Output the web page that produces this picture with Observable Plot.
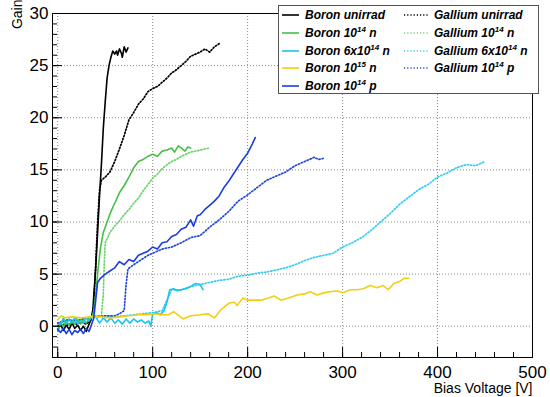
<!DOCTYPE html>
<html>
<head>
<meta charset="utf-8">
<script src="https://cdn.jsdelivr.net/npm/d3@7"></script>
<script src="https://cdn.jsdelivr.net/npm/@observablehq/plot@0.6"></script>
<style>
  body { margin: 0; background: #fff; }
  #wrap { position: relative; width: 550px; height: 397px; font-family: "Liberation Sans", Arial, sans-serif; }
  #legend { position: absolute; left: 278px; top: 5px; width: 261px; height: 89px; background: #fff; border: 1px solid #555; box-sizing: border-box; }
  .entry { position: absolute; height: 16px; display: flex; align-items: center; font: italic bold 12px "Liberation Sans", Arial, sans-serif; white-space: nowrap; color: #000; }
  .entry svg { margin-right: 6px; }
  .entry sup { font-size: 8px; line-height: 0; vertical-align: 5px; }
</style>
</head>
<body>
<div id="wrap"></div>
<script>
// ---- data (Bias Voltage [V], Gain) ----
const boronUnirrad = [[0,-0.3],[3,0.2],[6,-0.4],[9,0.1],[12,-0.3],[15,0.3],[18,-0.2],[21,0.1],[24,-0.4],[27,0],[30,-0.5],[33,0.2],[35,0.6],[37,1.5],[38,3],[40,5.5],[42,9],[44,12.5],[45,14],[46,15.5],[48,19],[50,21.5],[52,23.8],[54,25],[56,25.8],[58,26.4],[60,26.1],[62,26.4],[63,26],[65,26.6],[67,26.2],[68,25.8],[70,26.8],[72,26.3],[74,26.7]];
const boron1e14n = [[0,-0.4],[3,0.3],[6,0],[9,0.5],[12,0.1],[15,0.5],[18,0.2],[21,0.6],[24,0.2],[27,0.6],[30,0.3],[33,0.8],[36,0.8],[38,1.5],[40,3],[42,5],[45,7.5],[48,9],[52,10],[56,11],[60,11.8],[65,12.8],[70,13.5],[75,14.3],[80,15.2],[85,15.8],[90,16],[95,16.3],[100,16.5],[105,16.3],[110,16.8],[115,16.9],[120,17.1],[123,16.7],[127,17.3],[130,17.1],[134,16.8],[137,17.2],[140,17.1]];
const boron6e14n = [[0,-0.5],[3,0.2],[6,0.8],[9,0.2],[12,0.7],[15,0.3],[18,0.8],[21,0.2],[24,0.6],[27,0.3],[30,0.8],[33,0.5],[36,1],[40,0.9],[44,0.3],[48,0.8],[52,0.4],[56,0.8],[60,0.3],[64,0.6],[68,0.2],[72,0.7],[76,0.3],[80,0.7],[84,0.4],[88,0.6],[92,0.3],[96,0.5],[98,0],[100,1.2],[104,1.3],[108,1.1],[112,1.5],[115,2.3],[118,3.5],[122,3.6],[126,3.4],[130,3.5],[135,3.6],[140,3.8],[145,4.1],[150,4.0],[153,3.5]];
const boron1e15n = [[0,0.6],[4,1],[8,0.8],[15,0.9],[25,0.8],[35,0.9],[45,0.9],[55,0.8],[65,0.9],[75,1],[85,1.1],[95,1.1],[100,1.2],[110,1.1],[117,1.1],[122,1.4],[132,0.7],[140,1],[150,1.1],[158,1.2],[165,0.8],[172,1.6],[180,2.2],[186,2.3],[189,2.0],[195,2.7],[200,2.5],[207,2.5],[214,2.5],[222,2.7],[228,2.9],[235,2.5],[243,2.7],[252,3.0],[260,3.1],[266,3.3],[273,3.0],[280,3.2],[287,3.3],[294,3.4],[300,3.2],[308,3.5],[315,3.5],[322,3.6],[329,3.9],[336,3.7],[343,3.9],[348,3.5],[354,4.1],[360,4.3],[365,4.6],[370,4.6]];
const boron1e14p = [[0,-0.3],[3,-0.6],[6,-0.2],[9,-0.7],[12,-0.3],[15,-0.8],[18,-0.4],[21,-0.6],[24,-0.3],[27,-0.7],[30,-0.2],[33,-0.5],[35,0],[38,0.8],[40,2.5],[42,4.2],[45,4.6],[50,5],[55,5.3],[60,5.6],[65,6.2],[70,5.9],[75,6.4],[80,6.2],[85,6.8],[90,7],[95,7.2],[100,7.6],[105,7.4],[110,8],[115,8.1],[120,8.6],[125,8.8],[130,9.3],[135,9.5],[140,10.2],[143,9.6],[147,10.6],[150,10.7],[155,11.2],[160,11.6],[165,12],[170,12.5],[175,13.3],[180,13.9],[185,14.6],[190,15.3],[195,16],[200,16.6],[205,17.5],[208,18.1]];
const galliumUnirrad = [[0,0],[5,0.2],[10,0.1],[15,0.3],[20,0.2],[25,0.4],[30,0.2],[35,0.6],[38,2],[40,6],[42,10],[44,13],[46,14],[50,14.3],[55,14.8],[60,15.8],[65,17],[70,18.3],[75,19.8],[80,20.5],[85,21.3],[90,21.8],[95,22.5],[100,22.8],[105,23],[110,23.4],[115,23.8],[120,24.3],[125,24.6],[130,25],[135,25.4],[140,25.9],[145,26.1],[150,26.3],[155,26.6],[160,26.3],[165,26.8],[170,27.1]];
const gallium1e14n = [[0,0.2],[5,0.4],[10,0.5],[15,0.6],[20,0.7],[25,0.6],[30,0.8],[35,0.9],[40,1],[46,1],[48,3],[49,6],[50,8],[55,9],[60,9.6],[65,10.1],[70,10.7],[75,11.2],[80,11.8],[85,12.3],[90,13],[95,13.6],[100,14.2],[105,14.6],[110,15.1],[115,15.5],[120,15.8],[125,16],[130,16.3],[135,16.5],[140,16.7],[145,16.8],[150,16.9],[155,17],[160,17.1]];
const gallium6e14n = [[0,0.3],[10,0.6],[20,0.5],[30,0.8],[40,0.9],[50,1],[60,0.9],[70,1],[80,1.1],[90,1.2],[100,1.3],[110,1.5],[115,2.5],[120,3.5],[130,3.5],[140,3.8],[150,4],[160,4.2],[170,4.4],[180,4.5],[190,4.8],[200,4.9],[210,5.1],[220,5.2],[230,5.4],[240,5.6],[250,5.9],[260,6.3],[270,6.6],[280,6.8],[290,7],[300,7.6],[310,8],[320,8.5],[330,9.2],[340,10],[350,10.8],[360,11.7],[370,12.4],[380,13.1],[390,13.6],[400,14.3],[410,14.7],[420,15.2],[430,15.5],[440,15.4],[450,15.8]];
const gallium1e14p = [[0,0.3],[10,0.6],[20,0.5],[30,0.8],[40,0.9],[50,1],[60,1],[65,1.2],[70,1.5],[72,4],[74,5.5],[80,5.9],[85,6.2],[90,6.5],[95,6.8],[100,7],[110,7.4],[120,7.6],[130,8],[140,8.5],[150,8.7],[160,9.5],[170,10.2],[180,11],[190,12],[200,12.6],[210,13.3],[220,14],[230,14.4],[240,14.8],[250,15.4],[260,15.8],[270,16.2],[275,16],[280,16.1]];

const seriesNames = ["Boron unirrad","Boron 10^14 n","Boron 6x10^14 n","Boron 10^15 n","Boron 10^14 p","Gallium unirrad","Gallium 10^14 n","Gallium 6x10^14 n","Gallium 10^14 p"];
const seriesData = [boronUnirrad, boron1e14n, boron6e14n, boron1e15n, boron1e14p, galliumUnirrad, gallium1e14n, gallium6e14n, gallium1e14p];
const seriesColors = ["#000000","#45c045","#18c4f0","#f2cf10","#1a3fe0","#000000","#6ad66a","#30cdf0","#2346dc"];
const seriesDotted = [false,false,false,false,false,true,true,true,true];

const xMajor = [0,100,200,300,400,500];
const xMinor = d3.range(0, 501, 20);
const yMajor = [0,5,10,15,20,25,30];
const yMinor = d3.range(-3, 31, 1);

// ---- chart ----
const W = 550, H = 397;
const mL = 52, mR = 18, mT = 13, mB = 40;
const innerW = W - mL - mR, innerH = H - mT - mB;
const DOT = "1.2,2";

const marks = [
  Plot.ruleX(xMajor.filter(d => d < 500), {x: d => d, stroke: "#888", strokeDasharray: "1,2", strokeWidth: 1}),
  Plot.ruleY(yMajor.filter(d => d < 30), {y: d => d, stroke: "#888", strokeDasharray: "1,2", strokeWidth: 1}),
];
[5,6,7,8,0,1,2,3,4].forEach(i => {
  const opts = {
    x: d => d[0], y: d => d[1],
    stroke: seriesColors[i],
    strokeWidth: seriesDotted[i] ? 1.7 : 1.6,
    curve: "linear"
  };
  if (seriesDotted[i]) opts.strokeDasharray = DOT;
  marks.push(Plot.line(seriesData[i], opts));
});
marks.push(
  Plot.tickX(xMinor, {x: d => d, insetTop: innerH - 5, stroke: "#000"}),
  Plot.tickX(xMajor, {x: d => d, insetTop: innerH - 10, stroke: "#000"}),
  Plot.tickY(yMinor, {y: d => d, insetRight: innerW - 5, stroke: "#000"}),
  Plot.tickY(yMajor, {y: d => d, insetRight: innerW - 10, stroke: "#000"}),
  Plot.frame({stroke: "#000", strokeWidth: 1}),
  Plot.axisX({ticks: xMajor, tickSize: 0, tickPadding: 8, fontSize: 17, label: null, tickFormat: d => String(d)}),
  Plot.axisY({ticks: yMajor, tickSize: 0, tickPadding: 4, fontSize: 17, label: null, tickFormat: d => String(d)}),
  Plot.text(["Bias Voltage [V]"], {frameAnchor: "bottom-right", text: d => d, textAnchor: "end", lineAnchor: "bottom", dy: 35, dx: 0, fontSize: 14, fill: "#000"}),
  Plot.text(["Gain"], {frameAnchor: "top-left", text: d => d, rotate: -90, textAnchor: "end", dx: -40, dy: -14, fontSize: 14, fill: "#000"})
);

const chart = Plot.plot({
  width: W, height: H,
  marginLeft: mL, marginRight: mR, marginTop: mT, marginBottom: mB,
  style: {fontFamily: "Liberation Sans, Arial, sans-serif", color: "#000", background: "#fff", overflow: "visible"},
  x: {domain: [-5.5, 500]},
  y: {domain: [-3, 30]},
  marks
});
const wrap = document.getElementById("wrap");
wrap.appendChild(chart);

// ---- legend ----
const legend = document.createElement("div");
legend.id = "legend";
function labelHTML(s) {
  return s.replace(/\^(\d+)/g, "<sup>$1</sup>");
}
const rowTops = [1, 19, 37, 54, 72];
seriesNames.forEach((name, i) => {
  const col = seriesDotted[i] ? 1 : 0;
  const row = col ? i - 5 : i;
  const e = document.createElement("div");
  e.className = "entry";
  e.style.left = col ? "125px" : "3px";
  e.style.top = rowTops[row] + "px";
  const len = col ? 24 : 17;
  e.innerHTML = `<svg width="${len}" height="4"><line x1="0" x2="${len}" y1="2" y2="2" stroke="${seriesColors[i]}" stroke-width="1.6" ${seriesDotted[i] ? 'stroke-dasharray="' + DOT + '"' : ''}/></svg><span>${labelHTML(name)}</span>`;
  legend.appendChild(e);
});
wrap.appendChild(legend);
</script>
</body>
</html>
